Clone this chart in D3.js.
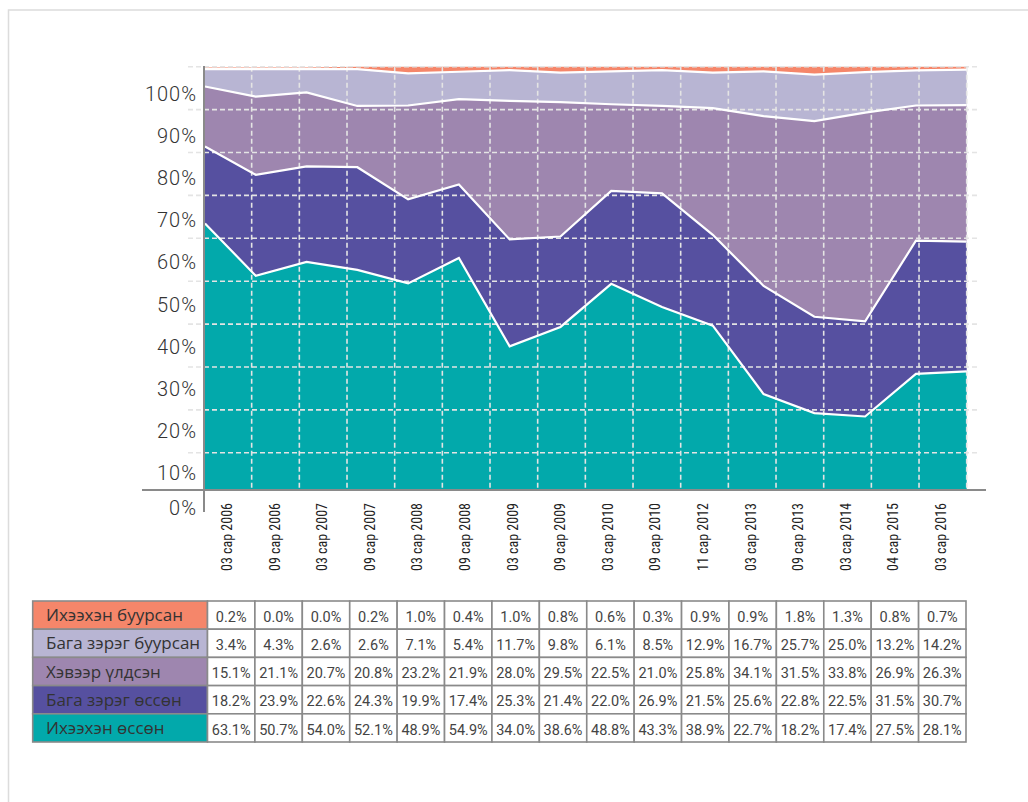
<!DOCTYPE html>
<html><head><meta charset="utf-8">
<script src="https://cdn.jsdelivr.net/npm/d3@7"></script>
<style>body{margin:0;background:#fff;} svg{display:block;}</style>
</head><body><svg id="c" width="1028" height="802"></svg>
<script>
const categories = ["03 сар 2006","09 сар 2006","03 сар 2007","09 сар 2007","03 сар 2008","09 сар 2008","03 сар 2009","09 сар 2009","03 сар 2010","09 сар 2010","11 сар 2012","03 сар 2013","09 сар 2013","03 сар 2014","04 сар 2015","03 сар 2016"];
const seriesNames = ["Ихээхэн буурсан","Бага зэрэг буурсан","Хэвээр үлдсэн","Бага зэрэг өссөн","Ихээхэн өссөн"];
const seriesColors = ["#f5866a","#b8b5d3","#9e86af","#5650a0","#02a9ab"];

// values printed in the table
const tableDecreasedMuch   = [0.2,0.0,0.0,0.2,1.0,0.4,1.0,0.8,0.6,0.3,0.9,0.9,1.8,1.3,0.8,0.7];
const tableDecreasedLittle = [3.4,4.3,2.6,2.6,7.1,5.4,11.7,9.8,6.1,8.5,12.9,16.7,25.7,25.0,13.2,14.2];
const tableUnchanged       = [15.1,21.1,20.7,20.8,23.2,21.9,28.0,29.5,22.5,21.0,25.8,34.1,31.5,33.8,26.9,26.3];
const tableIncreasedLittle = [18.2,23.9,22.6,24.3,19.9,17.4,25.3,21.4,22.0,26.9,21.5,25.6,22.8,22.5,31.5,30.7];
const tableIncreasedMuch   = [63.1,50.7,54.0,52.1,48.9,54.9,34.0,38.6,48.8,43.3,38.9,22.7,18.2,17.4,27.5,28.1];

// values read from the plotted stacked areas
const areaIncreasedMuch   = [63.1,50.7,54.0,52.1,48.9,54.9,34.0,38.6,48.8,43.3,38.9,22.7,18.2,17.4,27.5,28.1];
const areaIncreasedLittle = [18.2,23.9,22.6,24.3,19.9,17.4,25.3,21.4,22.0,26.9,21.5,25.6,22.8,22.5,31.5,30.7];
const areaUnchanged       = [14.2,18.5,17.5,14.5,22.2,20.2,32.8,31.8,20.5,20.7,30.0,40.2,46.3,49.4,32.0,32.3];
const areaDecreasedLittle = [4.1,6.5,5.5,8.7,7.6,6.5,7.3,7.0,7.8,8.5,8.4,10.6,11.0,9.6,8.3,8.4];
const areaDecreasedMuch   = [0.4,0.4,0.4,0.6,1.6,1.2,0.8,1.4,1.1,0.8,1.4,1.1,1.9,1.3,0.9,0.7];

const yTickValues = [0,10,20,30,40,50,60,70,80,90,100];
const gridValues = [10,20,30,40,50,60,70,80,90,100];

const svg = d3.select("#c");

// page frame
svg.append("path").attr("d","M8.5,802V10H1028").attr("fill","none").attr("stroke","#dcdcdc").attr("stroke-width",1.5);

const keys = ["im","il","un","dl","dm"];
const areaSeries = {im:areaIncreasedMuch, il:areaIncreasedLittle, un:areaUnchanged, dl:areaDecreasedLittle, dm:areaDecreasedMuch};
const keyColor = {im:seriesColors[4], il:seriesColors[3], un:seriesColors[2], dl:seriesColors[1], dm:seriesColors[0]};
const rows = categories.map((c,i)=>{const o={cat:c}; keys.forEach(k=>o[k]=areaSeries[k][i]); return o;});
const stacked = d3.stack().keys(keys)(rows);

const x = d3.scalePoint().domain(categories).range([205, 966.7]);
const y = d3.scaleLinear().domain([0,100]).range([490, 67.5]);
const xBand = d3.scaleBand().domain(categories).range([204, 966.7]);
const xLabel = d3.scalePoint().domain(categories).range([227, 941]);
const yGrid = d3.scaleLinear().domain([10,100]).range([452.8, 66.7]);
const yLabel = d3.scaleLinear().domain([0,10,100]).range([508, 472.7, 93.8]);

const area = d3.area().x(d=>x(d.data.cat)).y0(d=>y(d[0])).y1(d=>y(d[1]));
const topLine = d3.line().x(d=>x(d.data.cat)).y(d=>y(d[1]));

svg.append("g").selectAll("path").data(stacked).join("path")
  .attr("d", area).attr("fill", d=>keyColor[d.key]);

// horizontal grid
svg.append("g").selectAll("line").data(gridValues).join("line")
  .attr("x1",188).attr("x2",977).attr("y1",d=>yGrid(d)).attr("y2",d=>yGrid(d))
  .attr("stroke","#e4e4e4").attr("stroke-width",1.6).attr("stroke-dasharray","5,3");
// vertical grid
svg.append("g").selectAll("line").data(categories).join("line")
  .attr("x1",d=>xBand(d)+xBand.bandwidth()).attr("x2",d=>xBand(d)+xBand.bandwidth())
  .attr("y1",66.7).attr("y2",490)
  .attr("stroke","#e4e4e4").attr("stroke-width",1.6).attr("stroke-dasharray","5,3");

// white boundaries
svg.append("g").selectAll("path").data(stacked.slice(0,4)).join("path")
  .attr("d", topLine).attr("fill","none").attr("stroke","#fff").attr("stroke-width",2.2);

// axes lines
svg.append("line").attr("x1",142).attr("x2",986).attr("y1",490).attr("y2",490).attr("stroke","#8a8a8a").attr("stroke-width",2);
svg.append("line").attr("x1",204).attr("x2",204).attr("y1",66).attr("y2",512).attr("stroke","#8a8a8a").attr("stroke-width",2);

// y labels
svg.append("g").selectAll("text").data(yTickValues).join("text")
  .attr("x",197).attr("y",d=>yLabel(d)).attr("dy","0.36em").attr("text-anchor","end")
  .attr("font-family","Roboto, 'Noto Sans', sans-serif").attr("font-weight",300)
  .attr("font-size",20).attr("letter-spacing",1).attr("fill","#333")
  .text(d=>d+"%");

// x labels
svg.append("g").selectAll("text").data(categories).join("text")
  .attr("transform",d=>`translate(${xLabel(d)},503) rotate(-90)`)
  .attr("dy","0.36em").attr("text-anchor","end")
  .attr("font-family","'Liberation Sans Narrow', 'Roboto Condensed', 'DejaVu Sans Condensed', sans-serif")
  .attr("font-size",14).attr("fill","#222")
  .text(d=>d);

// table
const tableRows = [tableDecreasedMuch, tableDecreasedLittle, tableUnchanged, tableIncreasedLittle, tableIncreasedMuch];
const colX = d3.scaleBand().domain(categories).range([207.5, 966]);
const rowY = d3.scaleBand().domain(seriesNames).range([601, 742]);
const fmt = d3.format(".1f");
const tg = svg.append("g");
seriesNames.forEach((name,ri)=>{
  const ry = rowY(name), rh = rowY.bandwidth();
  tg.append("rect").attr("x",32.7).attr("y",ry).attr("width",207.5-32.7).attr("height",rh)
    .attr("fill",seriesColors[ri]).attr("stroke","#8a8a8a").attr("stroke-width",1.6);
  tg.append("text").attr("x",46).attr("y",ry+rh/2).attr("dy","0.36em")
    .attr("font-family","'Open Sans', 'Noto Sans', sans-serif").attr("font-size",17).attr("fill","#333")
    .text(name);
  categories.forEach((c,ci)=>{
    tg.append("rect").attr("x",colX(c)).attr("y",ry).attr("width",colX.bandwidth()).attr("height",rh)
      .attr("fill","#fff").attr("stroke","#8a8a8a").attr("stroke-width",1.6);
    tg.append("text").attr("x",colX(c)+colX.bandwidth()/2).attr("y",ry+rh/2+1.5).attr("dy","0.36em")
      .attr("text-anchor","middle").attr("font-family","Roboto, sans-serif").attr("font-size",14.5)
      .attr("fill","#444").text(fmt(tableRows[ri][ci])+"%");
  });
});
</script></body></html>
